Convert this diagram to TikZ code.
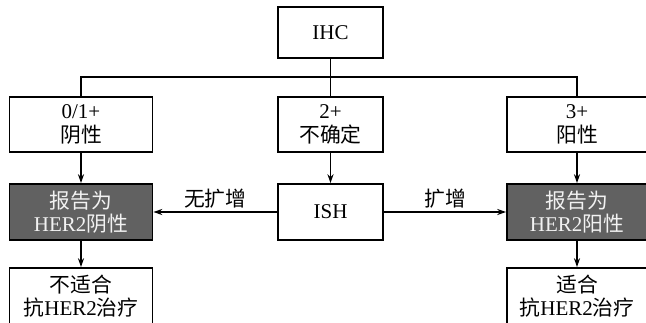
\documentclass[tikz,border=0pt]{standalone}
\usepackage{fontspec}
\setmainfont{Liberation Serif}
\newfontfamily\cjk{Noto Sans CJK SC}[Scale=0.99]
\usetikzlibrary{arrows.meta}
\begin{document}
\begin{tikzpicture}[x=1pt,y=1pt,
  box/.style={draw=black, line width=1.6pt, fill=white, align=center,
    inner sep=0pt, minimum height=55pt, font=\fontsize{21}{23.5}\selectfont},
  graybox/.style={box, fill=black!62, text=black!5},
  conn/.style={line width=1.6pt},
  arr/.style={conn, -{Stealth[length=9pt,width=6pt]}},
  lbl/.style={font=\fontsize{21}{23}\selectfont, inner sep=3pt}]
\useasboundingbox (0,0) rectangle (646,322);
\node[box, minimum width=105pt, minimum height=51pt] (ihc) at (330.5,289.5) {IHC};
\node[box, minimum width=143pt] (neg) at (81,197.5) {0/1+\\{\cjk 阴性}};
\node[box, minimum width=105pt] (equ) at (330.5,197.5) {2+\\{\cjk 不确定}};
\node[box, minimum width=140pt] (pos) at (577,197.5) {3+\\{\cjk 阳性}};
\node[graybox, minimum width=143pt, minimum height=56pt] (rneg) at (81,110) {{\cjk 报告为}\\HER2{\cjk 阴性}};
\node[box, minimum width=105pt, minimum height=56pt] (ish) at (330.5,110) {ISH};
\node[graybox, minimum width=140pt, minimum height=56pt] (rpos) at (577,110) {{\cjk 报告为}\\HER2{\cjk 阳性}};
\node[box, minimum width=143pt, minimum height=56pt] (noth) at (81,26) {{\cjk 不适合}\\{\cjk 抗}HER2{\cjk 治疗}};
\node[box, minimum width=140pt, minimum height=56pt] (th) at (577,26) {{\cjk 适合}\\{\cjk 抗}HER2{\cjk 治疗}};
\coordinate (bus) at (330.5,245);
\draw[conn] (ihc.south) -- (bus);
\draw[conn] (bus) -| (neg.north);
\draw[conn] (bus) -| (pos.north);
\draw[conn] (bus) -- (equ.north);
\draw[arr] (neg) -- (rneg);
\draw[arr] (equ) -- (ish);
\draw[arr] (pos) -- (rpos);
\draw[arr] (rneg) -- (noth);
\draw[arr] (rpos) -- (th);
\draw[arr] (ish) -- node[lbl, above] {\cjk 无扩增} (rneg);
\draw[arr] (ish) -- node[lbl, above] {\cjk 扩增} (rpos);
\end{tikzpicture}
\end{document}
